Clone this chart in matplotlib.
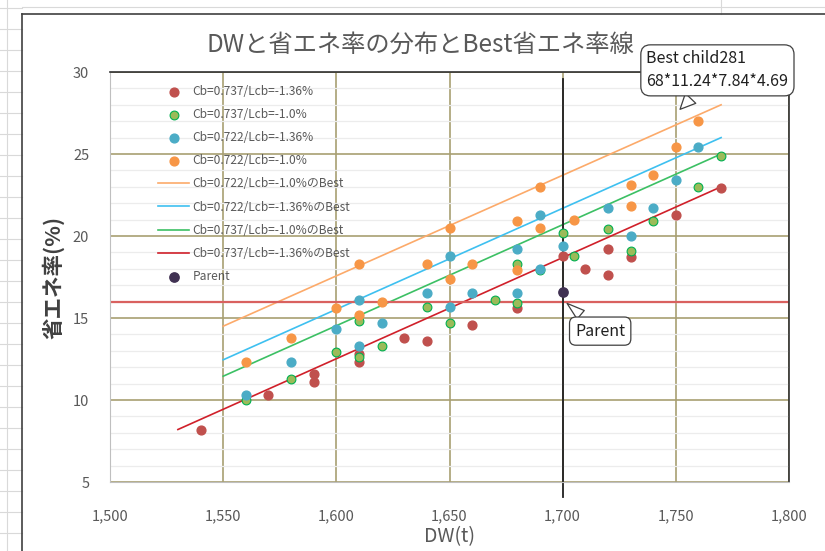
import matplotlib
matplotlib.use("Agg")
import matplotlib.pyplot as plt
from matplotlib.lines import Line2D
from matplotlib.ticker import MultipleLocator, FuncFormatter

plt.rcParams['font.family'] = ['Noto Sans CJK JP', 'DejaVu Sans']

# --- data ---
dw_r = [1540, 1570, 1590, 1590, 1610, 1610, 1630, 1640, 1660, 1680, 1700, 1710, 1720, 1720, 1730, 1750, 1770]
se_r = [8.2, 10.3, 11.6, 11.1, 12.8, 12.3, 13.8, 13.6, 14.6, 15.6, 18.8, 18.0, 19.2, 17.6, 18.7, 21.3, 22.9]

dw_g = [1560, 1580, 1600, 1610, 1610, 1620, 1640, 1650, 1670, 1680, 1680, 1690, 1700, 1705, 1720, 1730, 1740, 1760, 1770]
se_g = [10.0, 11.3, 12.9, 14.8, 12.6, 13.3, 15.7, 14.7, 16.1, 18.3, 15.9, 17.9, 20.2, 18.8, 20.4, 19.1, 20.9, 23.0, 24.9]

dw_b = [1560, 1580, 1600, 1610, 1610, 1620, 1640, 1650, 1650, 1660, 1680, 1680, 1690, 1690, 1700, 1720, 1730, 1740, 1750, 1760]
se_b = [10.3, 12.3, 14.3, 16.1, 13.3, 14.7, 16.5, 18.8, 15.7, 16.5, 19.2, 16.5, 21.3, 18.0, 19.4, 21.7, 20.0, 21.7, 23.4, 25.4]

dw_o = [1560, 1580, 1600, 1610, 1610, 1620, 1640, 1650, 1650, 1660, 1680, 1680, 1690, 1690, 1705, 1730, 1730, 1740, 1750, 1760]
se_o = [12.3, 13.8, 15.6, 18.3, 15.2, 16.0, 18.3, 20.5, 17.4, 18.3, 20.9, 17.9, 23.0, 20.5, 21.0, 23.1, 21.8, 23.7, 25.4, 27.0]

parent_dw = [1700]
parent_se = [16.6]

best_x = [1550, 1770]
best_o = [14.5, 28.0]
best_b = [12.45, 26.0]
best_g = [11.45, 25.0]
best_rx = [1530, 1770]
best_r = [8.2, 23.0]

parent_line_y = 16
parent_line_x = 1700

xticks = [1500, 1550, 1600, 1650, 1700, 1750, 1800]
yticks = [5, 10, 15, 20, 25, 30]

fig = plt.figure(figsize=(8.25, 5.51), dpi=100)

# spreadsheet cells behind the chart
for yy in range(0, 551, 21):
    fig.add_artist(Line2D([0, 22/825], [1-(yy+8)/551]*2, color='#d9d9d9', lw=0.8))
fig.add_artist(Line2D([7/825]*2, [0, 1], color='#d9d9d9', lw=0.8))
fig.add_artist(Line2D([22/825, 1], [1-7/551]*2, color='#d9d9d9', lw=0.8))
fig.add_artist(Line2D([721/825]*2, [1-14/551, 1], color='#d9d9d9', lw=0.8))
fig.add_artist(Line2D([22/825]*2, [0, 1-14/551], color='#404040', lw=1.2))
fig.add_artist(Line2D([22/825, 1], [1-14/551]*2, color='#404040', lw=1.2))

ax = fig.add_axes([110/825, 1-482/551, 679/825, 410/551])

ax.scatter(dw_r, se_r, s=40, color='#c0504d', zorder=3, label='Cb=0.737/Lcb=-1.36%')
ax.scatter(dw_g, se_g, s=40, color='#9bbb59', edgecolors='#00b050', linewidths=0.8, zorder=3,
           label='Cb=0.737/Lcb=-1.0%')
ax.scatter(dw_b, se_b, s=40, color='#4bacc6', zorder=3, label='Cb=0.722/Lcb=-1.36%')
ax.scatter(dw_o, se_o, s=40, color='#f79646', zorder=3, label='Cb=0.722/Lcb=-1.0%')

ax.plot(best_x, best_o, color='#fcaa6a', lw=1.2, zorder=2, label='Cb=0.722/Lcb=-1.0%のBest')
ax.plot(best_x, best_b, color='#3ec0f0', lw=1.2, zorder=2, label='Cb=0.722/Lcb=-1.36%のBest')
ax.plot(best_x, best_g, color='#3cc064', lw=1.2, zorder=2, label='Cb=0.737/Lcb=-1.0%のBest')
ax.plot(best_rx, best_r, color='#d0202a', lw=1.2, zorder=2, label='Cb=0.737/Lcb=-1.36%のBest')

ax.scatter(parent_dw, parent_se, s=45, color='#403152', zorder=4, label='Parent')

ax.axhline(parent_line_y, color='#d9615f', lw=1.6, zorder=2)
ax.plot([parent_line_x]*2, [4.1, 29.6], color='#202020', lw=1.3, zorder=2, clip_on=False)

ax.set_xlim(1500, 1800)
ax.set_ylim(5, 30)
ax.set_xticks(xticks)
ax.set_yticks(yticks)
ax.yaxis.set_minor_locator(MultipleLocator(1))
ax.xaxis.set_major_formatter(FuncFormatter(lambda v, p: f'{int(v):,}'))
ax.grid(which='major', color='#a89f72', lw=1.2, zorder=0)
ax.grid(which='minor', axis='y', color='#ececec', lw=0.9, zorder=0)
ax.set_axisbelow(True)
ax.tick_params(which='both', length=0, labelsize=10.5, colors='#595959')
ax.tick_params(axis='x', pad=20)
ax.tick_params(axis='y', pad=15)

for s in ['left', 'bottom']:
    ax.spines[s].set_color('#bfbfbf')
for s in ['top', 'right']:
    ax.spines[s].set_color('#303030')
    ax.spines[s].set_linewidth(1.2)

ax.set_xlabel('DW(t)', fontsize=14, color='#595959', labelpad=2)
ax.set_ylabel('省エネ率(%)', fontsize=15.5, color='#404040', fontweight='bold', labelpad=6)
fig.text(420/825, 1-45/551, 'DWと省エネ率の分布とBest省エネ率線', fontsize=17.5, color='#595959',
         ha='center', va='center')

leg = ax.legend(loc='upper left', bbox_to_anchor=(0.055, 0.995), frameon=False, fontsize=8.6,
                labelcolor='#595959', handlelength=2.6, handletextpad=0.3, labelspacing=0.85,
                scatterpoints=1)

ax.annotate('Best child281\n68*11.24*7.84*4.69', xy=(1751, 27.6), xytext=(1737, 30.1),
            fontsize=11.5, ha='left', va='center', color='#202020', annotation_clip=False,
            linespacing=1.45,
            bbox=dict(boxstyle='round,pad=0.35,rounding_size=0.6', fc='white', ec='#404040', lw=0.9),
            arrowprops=dict(arrowstyle='wedge,tail_width=0.9,shrink_factor=0.5', fc='white',
                            ec='#404040', lw=0.9))
ax.annotate('Parent', xy=(1701, 16.0), xytext=(1705.5, 14.2),
            fontsize=11.5, ha='left', va='center', color='#202020',
            bbox=dict(boxstyle='round,pad=0.35,rounding_size=0.4', fc='white', ec='#404040', lw=0.9),
            arrowprops=dict(arrowstyle='wedge,tail_width=0.7,shrink_factor=0.5', fc='white',
                            ec='#404040', lw=0.9))

fig.savefig('out.png', dpi=100)
